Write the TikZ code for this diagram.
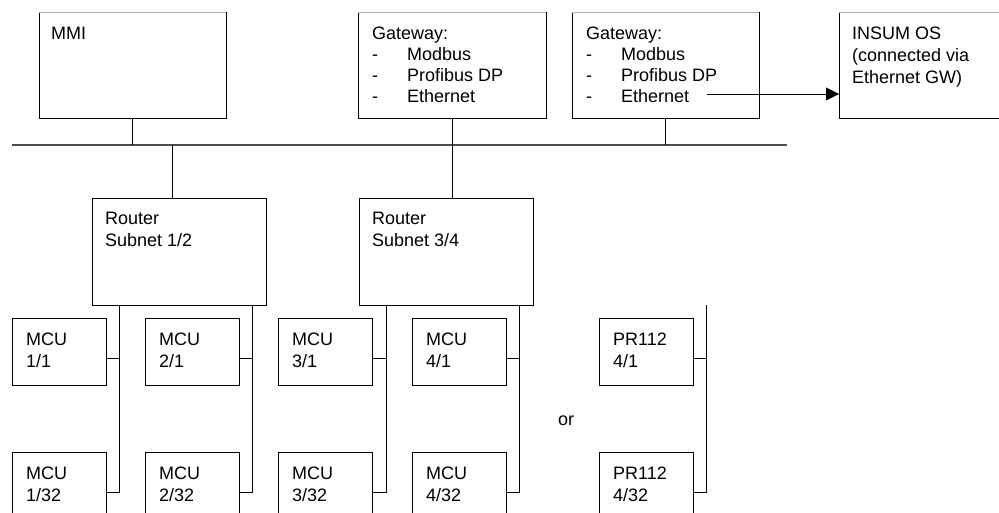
\documentclass[tikz,border=0pt]{standalone}
\usepackage{fontspec}
\setmainfont{Liberation Sans}
\usetikzlibrary{arrows.meta}
\newcommand\gwitem[1]{\makebox[35pt][l]{-}#1}
\begin{document}
\begin{tikzpicture}[x=1pt,y=-1pt,
  box/.style={draw=black,line width=0.8pt,rectangle,inner sep=0pt,outer sep=0pt,anchor=north west},
  topbox/.style={box,minimum height=105.5pt},
  topedge/.style={line width=1.1pt,black!30},
  rbox/.style={box,minimum width=174pt,minimum height=107pt},
  mbox/.style={box,minimum width=94pt,minimum height=67pt},
  bbox/.style={box,minimum width=94pt,minimum height=80pt},
  lbl/.style={anchor=north west,inner sep=0pt,align=left,font=\fontsize{18}{21.7}\selectfont},
  gwlbl/.style={lbl,font=\fontsize{18}{20.8}\selectfont},
  wire/.style={line width=0.8pt,black},
  bus/.style={line width=1.4pt,black!70}]
\useasboundingbox (0,0) rectangle (999,513);
\clip (0,11.5) rectangle (999,513);

% top row boxes
\node[topbox,minimum width=187pt] (mmi) at (39,12.5) {};
\node[topbox,minimum width=188pt] (gw1) at (358,12.5) {};
\node[topbox,minimum width=187pt] (gw2) at (572,12.5) {};
\node[topbox,minimum width=175pt] (insum) at (839,12.5) {};
\foreach \b in {mmi,gw1,gw2,insum}
  \draw[topedge] (\b.north west) -- (\b.north east);
\node[lbl] (mmit) at (51,27) {MMI};
\node[gwlbl] (gw1t) at (372,27) {Gateway:\\\gwitem{Modbus}\\\gwitem{Profibus DP}\\\gwitem{Ethernet}};
\node[gwlbl] (gw2t) at (586,27) {Gateway:\\\gwitem{Modbus}\\\gwitem{Profibus DP}\\\gwitem{Ethernet}};
\node[lbl] (insumt) at (852,27) {INSUM OS\\(connected via\\Ethernet GW)};

% routers
\node[rbox] (r1) at (92,198) {};
\node[rbox] (r2) at (359,198) {};
\node[lbl] (r1t) at (105,212) {Router\\Subnet 1/2};
\node[lbl] (r2t) at (372,212) {Router\\Subnet 3/4};

% MCU top row
\node[mbox] (m11) at (12,318) {};
\node[mbox] (m21) at (145,318) {};
\node[mbox] (m31) at (278,318) {};
\node[mbox] (m41) at (412,318) {};
\node[mbox] (p41) at (599,318) {};
\node[lbl] (m11t) at (26,333) {MCU\\1/1};
\node[lbl] (m21t) at (159,333) {MCU\\2/1};
\node[lbl] (m31t) at (292,333) {MCU\\3/1};
\node[lbl] (m41t) at (426,333) {MCU\\4/1};
\node[lbl] (p41t) at (613,333) {PR112\\4/1};

% MCU bottom row
\node[bbox] (m132) at (12,452) {};
\node[bbox] (m232) at (145,452) {};
\node[bbox] (m332) at (278,452) {};
\node[bbox] (m432) at (412,452) {};
\node[bbox] (p432) at (599,452) {};
\node[lbl] (m132t) at (26,467) {MCU\\1/32};
\node[lbl] (m232t) at (159,467) {MCU\\2/32};
\node[lbl] (m332t) at (292,467) {MCU\\3/32};
\node[lbl] (m432t) at (426,467) {MCU\\4/32};
\node[lbl] (p432t) at (613,467) {PR112\\4/32};

\node[anchor=base west,inner sep=0pt,font=\fontsize{18}{21.7}\selectfont] (ort) at (558,425) {or};

% bus
\coordinate (busL) at (12,145);
\coordinate (busR) at (787,145);
\coordinate (tap1) at (172,145);
\draw[bus] (busL) -- (busR);
\draw[wire] (mmi.south) -- (mmi.south |- busL);
\draw[wire] (gw1.south) -- (gw1.south |- r2.north);
\draw[wire] (gw2.south) -- (gw2.south |- busL);
\draw[wire] (tap1) -- (tap1 |- r1.north);

% Ethernet arrow
\coordinate (ethstart) at (707,94);
\draw[wire,-{Triangle[length=13pt,width=13pt]}] (ethstart) -- (ethstart -| insum.west);

% subnet drops
\coordinate (d1) at (119,492);
\coordinate (d2) at (252,492);
\coordinate (d3) at (386,492);
\coordinate (d4) at (519,492);
\coordinate (d5) at (706,492);
\coordinate (d5top) at (706,305);
\draw[wire] (d1 |- r1.south) -- (d1) -- (m132.east);
\draw[wire] (d2 |- r1.south) -- (d2) -- (m232.east);
\draw[wire] (d3 |- r2.south) -- (d3) -- (m332.east);
\draw[wire] (d4 |- r2.south) -- (d4) -- (m432.east);
\draw[wire] (d5top) -- (d5) -- (p432.east);
\draw[wire] ([yshift=-6.5pt]m11.east) -- ([yshift=-6.5pt]m11.east -| d1);
\draw[wire] ([yshift=-6.5pt]m21.east) -- ([yshift=-6.5pt]m21.east -| d2);
\draw[wire] ([yshift=-6.5pt]m31.east) -- ([yshift=-6.5pt]m31.east -| d3);
\draw[wire] ([yshift=-6.5pt]m41.east) -- ([yshift=-6.5pt]m41.east -| d4);
\draw[wire] ([yshift=-6.5pt]p41.east) -- ([yshift=-6.5pt]p41.east -| d5);
\end{tikzpicture}
\end{document}
